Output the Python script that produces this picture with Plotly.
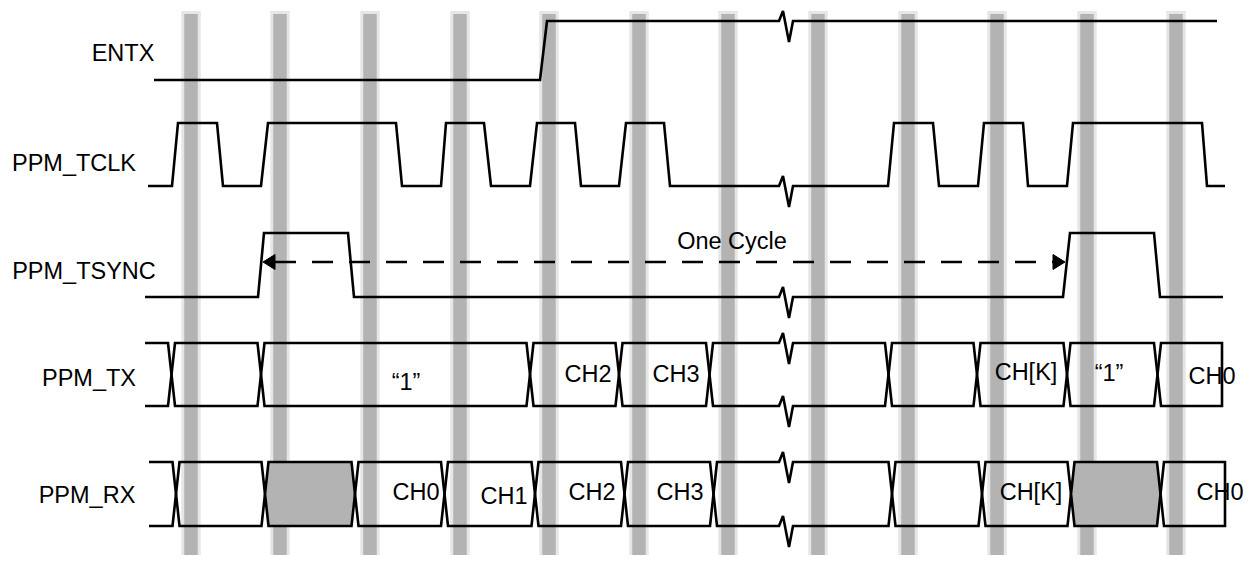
import plotly.graph_objects as go

W, H = 1257, 563
PAD = 8  # default page margin of the html body

# sampling bars (x centre of each grey stripe)
bar_x = [191, 280, 370, 460, 549, 639, 728, 818, 908, 997, 1087, 1176]

# time break (zigzag) position and shape
break_x = 779
zig_dx = [0, 4, 10, 14]
zig_dy = [0, -10, 21, 0]

# digital signals: edge times and levels (0 = low, 1 = high)
entx_t = [154, 540, 547, 1217]
entx_v = [0, 0, 1, 1]

tclk_t = [148, 172, 178, 217, 223, 261, 268, 396, 402, 441, 446, 484, 491, 530, 537,
          575, 581, 619, 626, 664, 670, 888, 894, 933, 939, 978, 984, 1023, 1028,
          1067, 1073, 1202, 1207, 1225]
tclk_v = [0, 0, 1, 1, 0, 0, 1, 1, 0, 0, 1, 1, 0, 0, 1,
          1, 0, 0, 1, 1, 0, 0, 1, 1, 0, 0, 1, 1, 0,
          0, 1, 1, 0, 0]

tsync_t = [145, 258, 264, 348, 354, 1063, 1070, 1154, 1160, 1223]
tsync_v = [0, 0, 1, 1, 0, 0, 1, 1, 0, 0]

# bus signals: segment boundaries, grey fill flag, text
tx_edges = [145, 171.5, 261, 530, 619, 709.5, 888.5, 977, 1067, 1157.5, 1222]
tx_fill = [0, 0, 0, 0, 0, 0, 0, 0, 0, 0]
tx_text = ["“1”", "CH2", "CH3", "CH[K]", "“1”", "CH0"]
tx_text_x = [406, 588, 676, 1026, 1109, 1212]
tx_text_y = [384, 376, 376, 374, 375, 378]

rx_edges = [149, 176, 265, 355, 444.5, 535, 624.5, 713.5, 892, 982, 1071, 1160.5, 1225]
rx_fill = [0, 0, 1, 0, 0, 0, 0, 0, 0, 0, 1, 0]
rx_text = ["CH0", "CH1", "CH2", "CH3", "CH[K]", "CH0"]
rx_text_x = [416, 504, 592, 680, 1031, 1220]
rx_text_y = [494, 498, 494, 494, 494, 494]

# cycle arrow
cycle_x = [263, 1065]
cycle_y = 262

names = ["ENTX", "PPM_TCLK", "PPM_TSYNC", "PPM_TX", "PPM_RX"]
name_x = [123, 74, 84, 89, 87]
name_y = [55, 165, 273, 380, 497]

FONT = "Liberation Sans, Arial, sans-serif"
FS = 23.5
LW = 2.6
BLK = "black"
GREY = "#b3b3b3"


def hline(x0, x1, y):
    pts = [(x0, y)]
    if x0 < break_x < x1:
        pts += [(break_x + dx, y + dy) for dx, dy in zip(zig_dx, zig_dy)]
    pts.append((x1, y))
    return pts


def wave(t, v, low, high):
    pts = []
    for i in range(len(t)):
        y = high if v[i] else low
        if i > 0 and v[i] == v[i - 1]:
            pts += hline(t[i - 1], t[i], y)[1:]
        else:
            pts.append((t[i], y))
    return pts


def bus(edges, fills, top, bot, d=3.5):
    mid = (top + bot) / 2
    out = []
    n = len(edges) - 1
    for i in range(n):
        a, b = edges[i], edges[i + 1]
        ol, orr = i == 0, i == n - 1
        xl = a if ol else a + d
        xr = b if orr else b - d
        pts = []
        if not ol:
            pts.append((a, mid))
        pts += hline(xl, xr, top)
        if not orr:
            pts.append((b, mid))
        pts += hline(xl, xr, bot)[::-1]
        if not ol:
            pts.append((a, mid))
        out.append((pts, fills[i]))
    return out


fig = go.Figure()


def add_line(pts, fill=None, dash=None, width=LW):
    fig.add_trace(go.Scatter(
        x=[p[0] for p in pts], y=[p[1] for p in pts], mode="lines",
        line=dict(color=BLK, width=width, dash=dash),
        fill="toself" if fill else None, fillcolor=fill,
        hoverinfo="skip", showlegend=False))


add_line(wave(entx_t, entx_v, 80, 21))
add_line(wave(tclk_t, tclk_v, 186, 123))
add_line(wave(tsync_t, tsync_v, 297, 233))

for pts, f in bus(tx_edges, tx_fill, 343, 406):
    add_line(pts, fill=GREY if f else None)
for pts, f in bus(rx_edges, rx_fill, 462, 526):
    add_line(pts, fill=GREY if f else None)

# dashed cycle arrow
ah_len, ah_half = 12, 7.5
add_line([(cycle_x[0] + ah_len, cycle_y), (cycle_x[1] - ah_len, cycle_y)],
         dash="21px,16px")
for tip, s in [(cycle_x[0], 1), (cycle_x[1], -1)]:
    tri = [(tip, cycle_y), (tip + s * ah_len, cycle_y - ah_half),
           (tip + s * ah_len, cycle_y + ah_half), (tip, cycle_y)]
    fig.add_trace(go.Scatter(
        x=[p[0] for p in tri], y=[p[1] for p in tri], mode="lines",
        line=dict(color=BLK, width=1), fill="toself", fillcolor=BLK,
        hoverinfo="skip", showlegend=False))


# text
def add_text(xs, ys, txt):
    fig.add_trace(go.Scatter(
        x=xs, y=ys, text=txt, mode="text", textposition="middle center",
        textfont=dict(family=FONT, size=FS, color=BLK),
        hoverinfo="skip", showlegend=False))


add_text(name_x, name_y, names)
add_text(tx_text_x, tx_text_y, tx_text)
add_text(rx_text_x, rx_text_y, rx_text)
add_text([732], [243], ["One Cycle"])

# grey stripes behind everything
shapes = []
for bx in bar_x:
    shapes.append(dict(type="rect", xref="x", yref="y", x0=bx - 9.75, x1=bx + 9.75,
                       y0=11, y1=563, fillcolor="#e6e6e6", line=dict(width=0),
                       layer="below"))
    shapes.append(dict(type="rect", xref="x", yref="y", x0=bx - 6.75, x1=bx + 6.75,
                       y0=14, y1=561, fillcolor=GREY, line=dict(width=0),
                       layer="below"))

# the page keeps an 8px body margin, so the plot is shrunk and the
# ranges shifted to keep data units equal to screen pixels
fig.update_layout(
    width=W - 2 * PAD, height=H - 2 * PAD, margin=dict(l=0, r=0, t=0, b=0),
    paper_bgcolor="white", plot_bgcolor="white", shapes=shapes,
    xaxis=dict(range=[PAD, W - PAD], visible=False, fixedrange=True),
    yaxis=dict(range=[H - PAD, PAD], visible=False, fixedrange=True),
)

fig.write_html("out.html")
